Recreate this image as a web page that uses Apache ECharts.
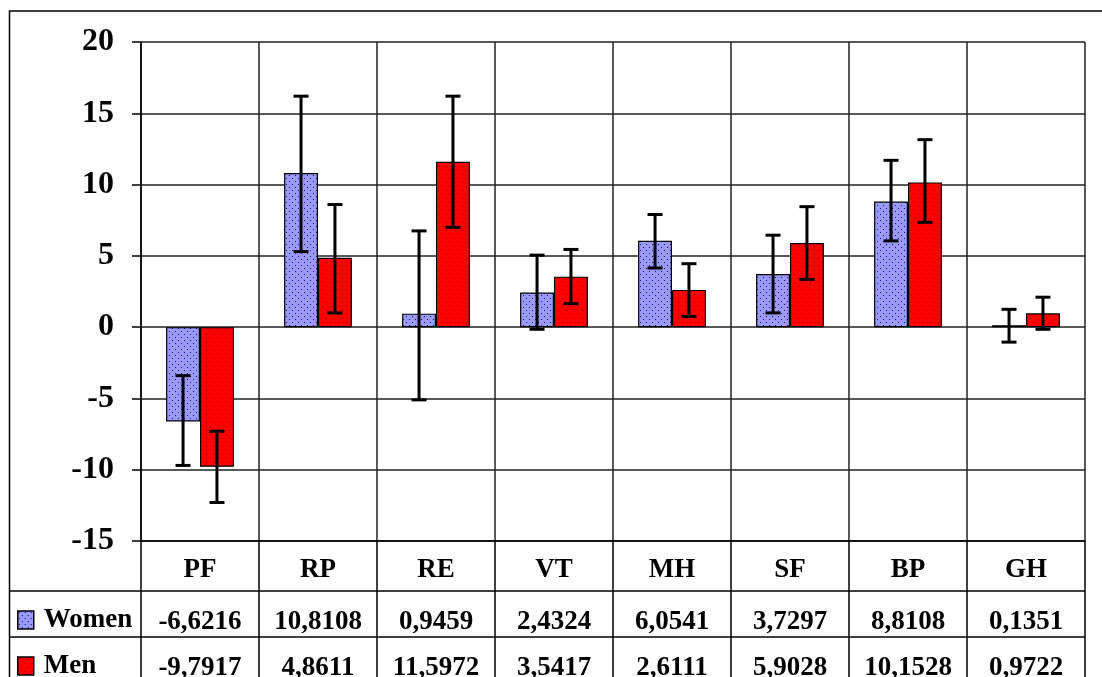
<!DOCTYPE html>
<html>
<head>
<meta charset="utf-8">
<script src="https://cdn.jsdelivr.net/npm/echarts@6/dist/echarts.min.js"></script>
<style>
html,body{margin:0;padding:0;background:#fff;}
#chart{width:1102px;height:677px;}
</style>
</head>
<body>
<div id="chart"></div>
<script>
const categories = ['PF','RP','RE','VT','MH','SF','BP','GH'];
const women = [-6.6216, 10.8108, 0.9459, 2.4324, 6.0541, 3.7297, 8.8108, 0.1351];
const men = [-9.7917, 4.8611, 11.5972, 3.5417, 2.6111, 5.9028, 10.1528, 0.9722];
const womenLow = [-9.7, 5.3, -5.1, -0.15, 4.15, 1.0, 6.05, -1.05];
const womenHigh = [-3.4, 16.2, 6.75, 5.05, 7.9, 6.45, 11.7, 1.25];
const menLow = [-12.3, 1.0, 7.0, 1.65, 0.75, 3.35, 7.35, -0.15];
const menHigh = [-7.3, 8.6, 16.2, 5.45, 4.45, 8.45, 13.15, 2.1];
const yMin = -15, yMax = 20, yStep = 5;

const SERIF = '"Liberation Serif","Times New Roman",serif';
const GRID = {left:141, right:17, top:42, bottom:136};
const CAT_GAP = 0.425;

function dotPattern(bg, dot, size, pts){
  const c = document.createElement('canvas');
  c.width = size; c.height = size;
  const g = c.getContext('2d');
  g.fillStyle = bg; g.fillRect(0,0,size,size);
  g.fillStyle = dot;
  pts.forEach(p => g.fillRect(p[0], p[1], 1, 1));
  return c;
}
const womenFill = {image: dotPattern('#9999FF', '#1c1c55', 6, [[1,1],[4,4]]), repeat:'repeat'};
const menFill = {image: dotPattern('#FF0000', '#7a0000', 8, [[2,2],[6,6]]), repeat:'repeat'};

function fmt(v){ return v.toFixed(4).replace('.', ','); }

function errRender(side){
  return function(params, api){
    const idx = api.value(0);
    const lo = api.coord([idx, api.value(1)]);
    const hi = api.coord([idx, api.value(2)]);
    const band = api.size([1,0])[0];
    const bw = band*(1-CAT_GAP)/2;
    const x = lo[0] + side*bw/2;
    const cap = 7.5;
    const st = {stroke:'#000', lineWidth:3};
    return {type:'group', children:[
      {type:'line', shape:{x1:x, y1:lo[1], x2:x, y2:hi[1]}, style:st},
      {type:'line', shape:{x1:x-cap, y1:lo[1], x2:x+cap, y2:lo[1]}, style:st},
      {type:'line', shape:{x1:x-cap, y1:hi[1], x2:x+cap, y2:hi[1]}, style:st}
    ]};
  };
}

const chart = echarts.init(document.getElementById('chart'), null, {renderer:'canvas'});
const option = {
  animation:false,
  backgroundColor:'#fff',
  grid:{left:GRID.left, right:GRID.right, top:GRID.top, bottom:GRID.bottom, containLabel:false, outerBoundsMode:'none'},
  legend:{
    orient:'vertical', left:17, top:606, height:150, itemGap:18, padding:0,
    itemWidth:16, itemHeight:18,
    data:['Women','Men'],
    icon:'rect',
    itemStyle:{borderColor:'#000', borderWidth:1.5},
    textStyle:{fontFamily:SERIF, fontWeight:'bold', fontSize:27, color:'#000', lineHeight:28, padding:[0,0,0,5]}
  },
  xAxis:{
    type:'category', data:categories, position:'bottom',
    axisLine:{onZero:false, lineStyle:{color:'#000', width:1.5}},
    axisTick:{show:true, interval:0, length:140, lineStyle:{color:'#000', width:1.5}},
    splitLine:{show:true, interval:0, lineStyle:{color:'#222', width:1.5}},
    axisLabel:{
      interval:0, margin:3,
      formatter:function(v, i){ return '{h|'+v+'}\n{w|'+fmt(women[i])+'}\n{m|'+fmt(men[i])+'}'; },
      rich:{
        h:{fontFamily:SERIF, fontWeight:'bold', fontSize:27, color:'#000', lineHeight:52},
        w:{fontFamily:SERIF, fontWeight:'bold', fontSize:27, color:'#000', lineHeight:52},
        m:{fontFamily:SERIF, fontWeight:'bold', fontSize:27, color:'#000', lineHeight:40}
      }
    }
  },
  yAxis:{
    type:'value', min:yMin, max:yMax, interval:yStep,
    axisLine:{show:true, lineStyle:{color:'#000', width:1.5}},
    axisTick:{show:true, inside:false, length:9, lineStyle:{color:'#000', width:1.5}},
    splitLine:{show:true, lineStyle:{color:'#222', width:1.5}},
    axisLabel:{fontFamily:SERIF, fontWeight:'bold', fontSize:32, color:'#000', margin:27}
  },
  series:[
    {name:'Women', type:'bar', data:women, barGap:0, barCategoryGap:(CAT_GAP*100)+'%',
      itemStyle:{color:womenFill, borderColor:'#000', borderWidth:1.2}, z:2},
    {name:'Men', type:'bar', data:men, barGap:0, barCategoryGap:(CAT_GAP*100)+'%',
      itemStyle:{color:menFill, borderColor:'#000', borderWidth:1.2}, z:2},
    {name:'WomenErr', type:'custom', renderItem:errRender(-1), z:5,
      data:categories.map((c,i)=>[i, womenLow[i], womenHigh[i]]), encode:{x:0, y:[1,2]}, silent:true},
    {name:'MenErr', type:'custom', renderItem:errRender(1), z:5,
      data:categories.map((c,i)=>[i, menLow[i], menHigh[i]]), encode:{x:0, y:[1,2]}, silent:true}
  ],
  graphic:[
    {type:'rect', z:100, silent:true, shape:{x:9.5, y:11, width:1200, height:800}, style:{fill:'none', stroke:'#000', lineWidth:1.5}},
    {type:'line', z:100, silent:true, shape:{x1:10, y1:591, x2:1102-GRID.right, y2:591}, style:{stroke:'#000', lineWidth:1.5}},
    {type:'line', z:100, silent:true, shape:{x1:10, y1:637, x2:1102-GRID.right, y2:637}, style:{stroke:'#000', lineWidth:1.5}}
  ]
};
chart.setOption(option);
</script>
</body>
</html>
